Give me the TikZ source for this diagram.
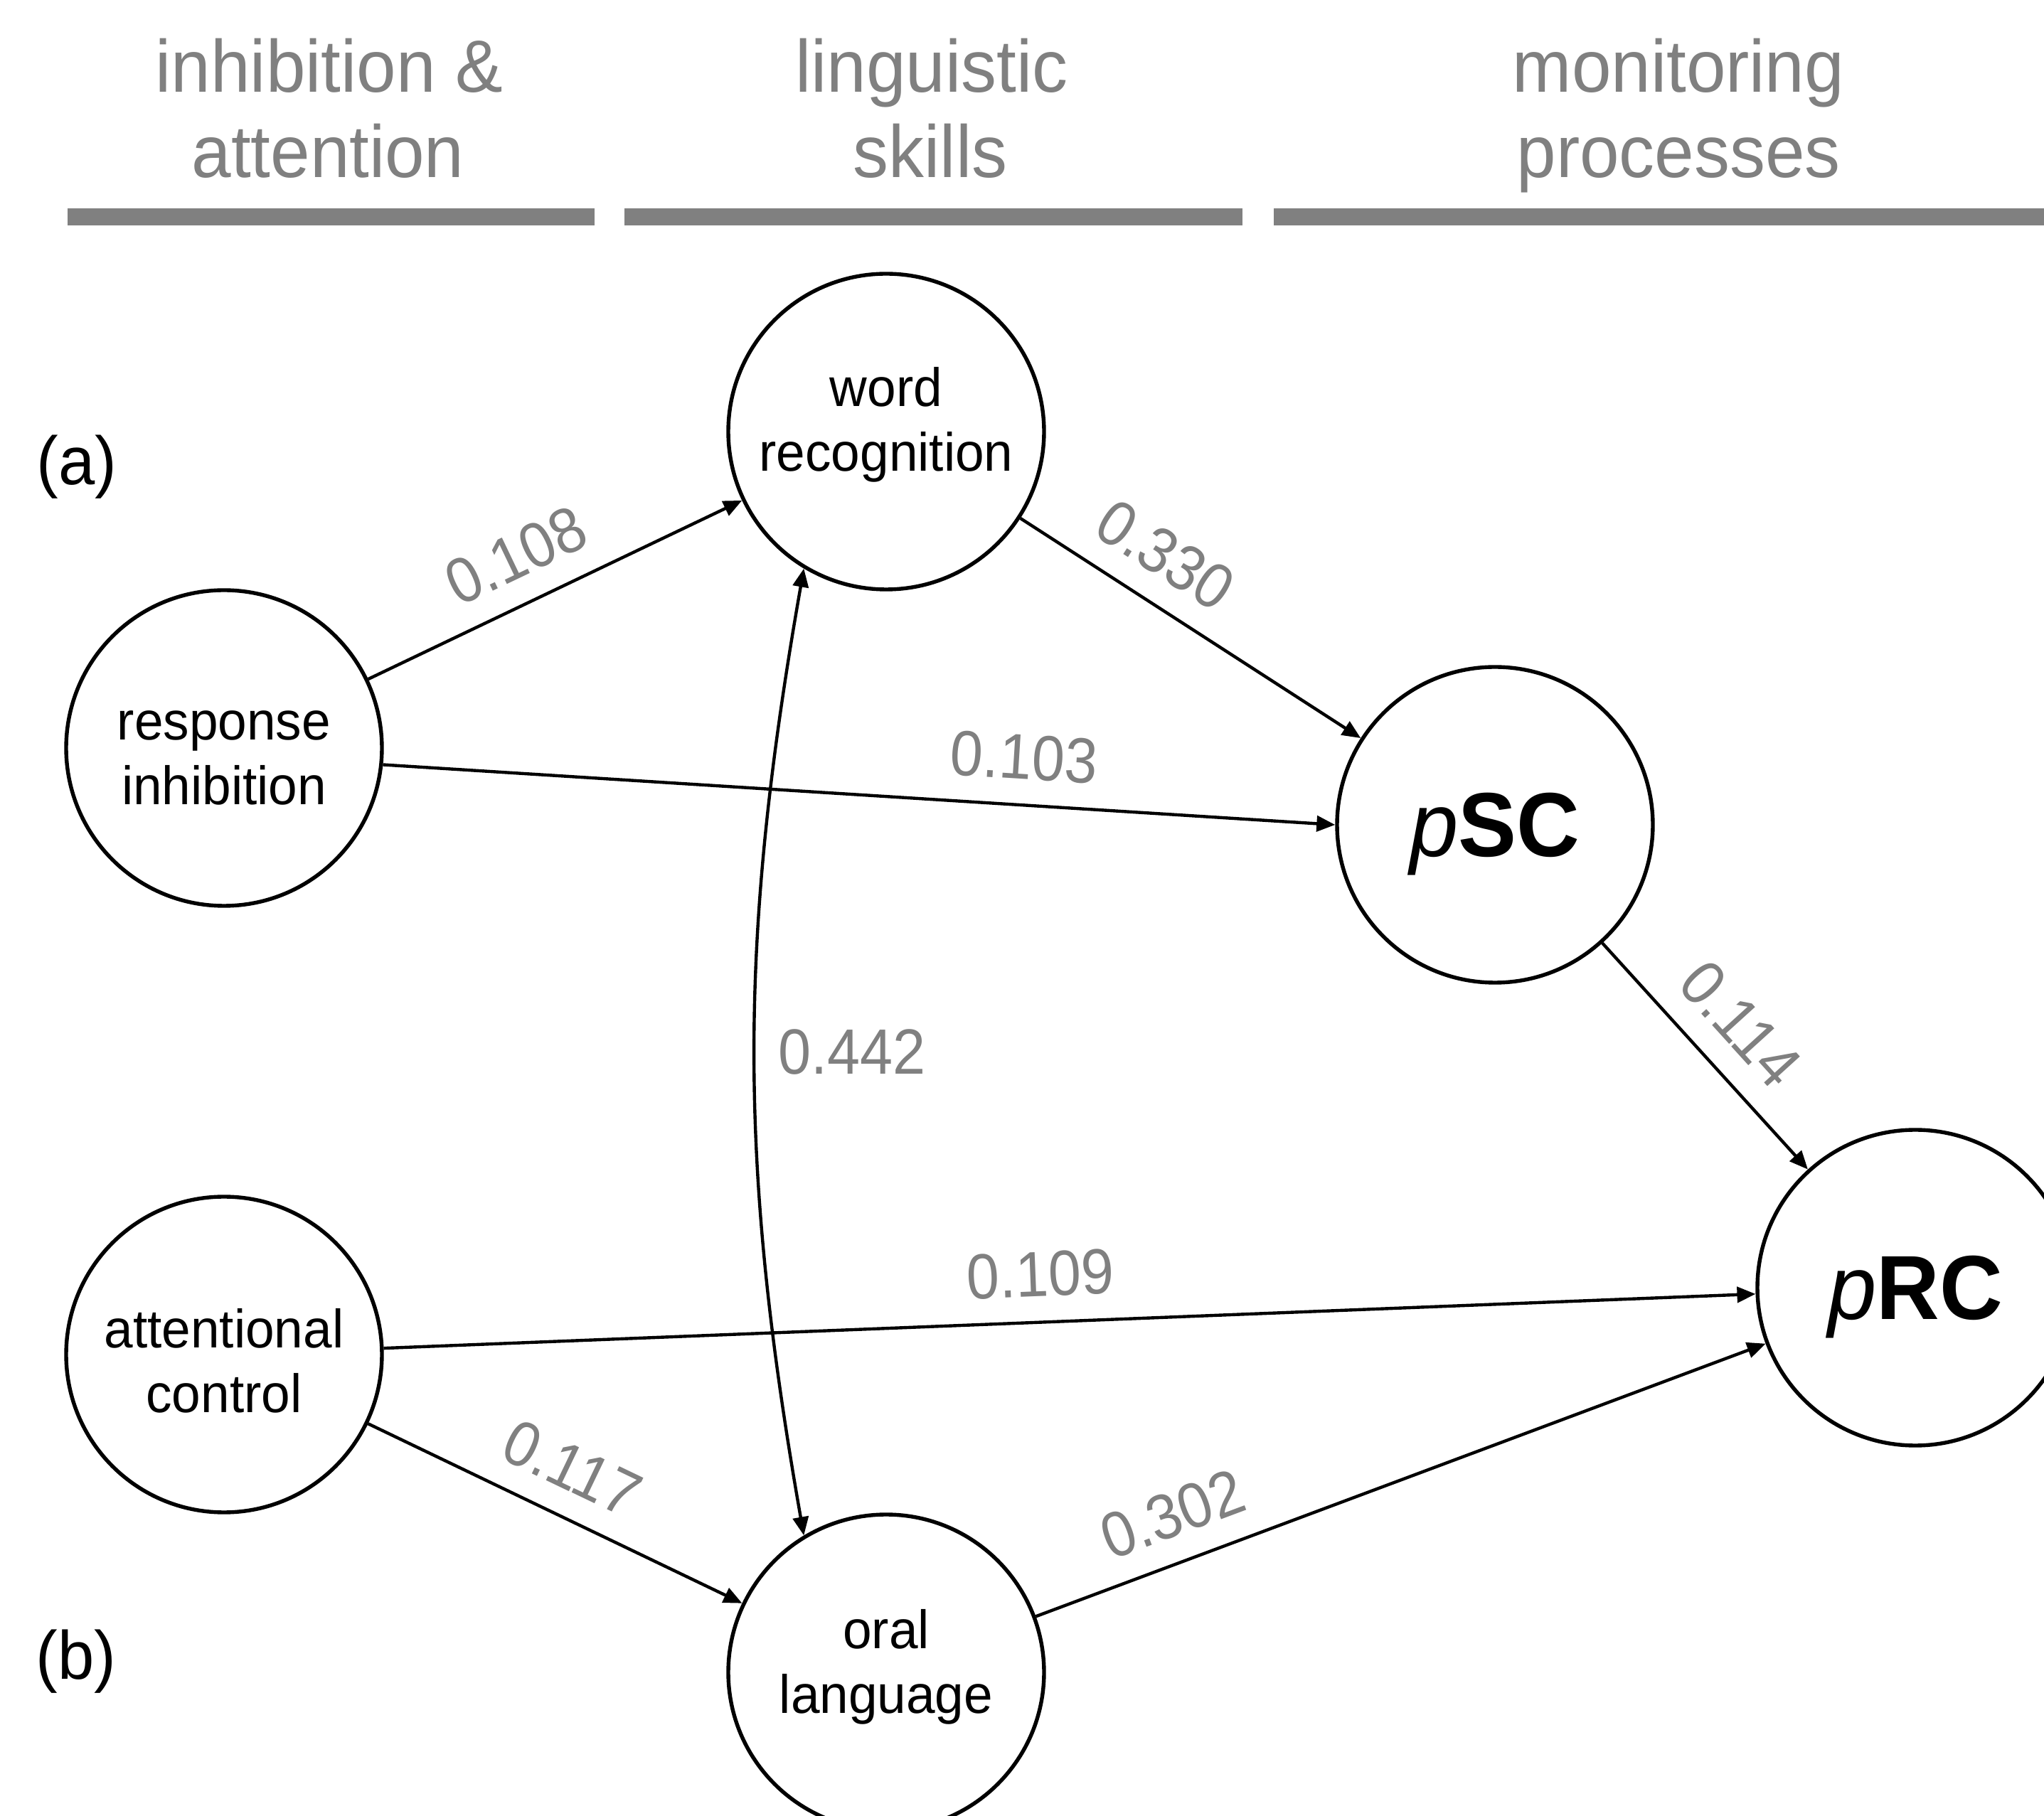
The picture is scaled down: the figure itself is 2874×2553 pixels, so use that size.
\documentclass[tikz,border=0pt]{standalone}
\usepackage{fontspec}
\setmainfont[FakeStretch=0.96]{Liberation Sans}
\newfontfamily\lblfont[FakeStretch=0.92]{Liberation Sans}
\usetikzlibrary{arrows.meta}
\definecolor{hgray}{RGB}{128,128,128}
\newcommand\twol[3]{\raisebox{-#1}[0pt][0pt]{\begin{tabular}[b]{@{}c@{}}#2\\#3\end{tabular}}}
\begin{document}
\begin{tikzpicture}[x=0.25pt,y=0.25pt,
  var/.style={circle, draw, line width=1.35pt, minimum size=111pt, inner sep=0pt, font=\fontsize{19}{22.75}\selectfont},
  big/.style={var, font=\fontsize{32}{36}\selectfont, text depth=0pt},
  edge/.style={line width=1.1pt, -{Triangle[length=6.5pt,width=5.5pt]}},
  dedge/.style={line width=1.1pt, {Triangle[length=6.5pt,width=5.5pt]}-{Triangle[length=6.5pt,width=5.5pt]}},
  lbl/.style={font=\lblfont\fontsize{22.5}{26}\selectfont, text=hgray, sloped, above=5pt},
  lblr/.style={font=\lblfont\fontsize{22.5}{26}\selectfont, text=hgray, right=4.5pt},
  hdr/.style={font=\fontsize{26}{30}\selectfont, text=hgray, anchor=base, inner sep=0pt},
  tag/.style={font=\fontsize{24}{28}\selectfont, anchor=base, inner sep=0pt}]
\useasboundingbox (0,0) rectangle (2874,2553);
\clip (0,0) rectangle (2874,2553);

% headers
\node[hdr] (h1a) at (463,2423) {inhibition \&};
\node[hdr] (h1b) at (461,2303) {attention};
\node[hdr] (h2a) at (1310,2423) {linguistic};
\node[hdr] (h2b) at (1308,2303) {skills};
\node[hdr] (h3a) at (2360,2423) {monitoring};
\node[hdr] (h3b) at (2360,2303) {processes};
\fill[hgray] (95,2236) rectangle (836,2260);
\fill[hgray] (878,2236) rectangle (1747,2260);
\fill[hgray] (1791,2236) rectangle (2874,2260);

% tags
\node[tag] (ta) at (108,1871) {(a)};
\node[tag] (tb) at (107,192) {(b)};

% variables
\node[var] (wr) at (1246,1946) {\twol{14pt}{word}{recognition}};
\node[var] (ri) at (315,1501) {\twol{20pt}{response}{inhibition}};
\node[var] (ac) at (315,648) {\twol{20.5pt}{attentional}{control}};
\node[var] (ol) at (1246,201) {\twol{14.5pt}{oral}{language}};
\node[big] (psc) at (2102,1393) {\textit{p}\textbf{SC}};
\node[big] (prc) at (2693,742) {\textit{p}\textbf{RC}};

% paths
\draw[edge] (ri) -- node[lbl,pos=.45]{0.108} (wr);
\draw[edge] (wr) -- node[lbl,pos=.35]{0.330} (psc);
\draw[edge] (ri.-6) -- node[lbl,pos=.67]{0.103} (psc.west);
\draw[edge] (psc) -- node[lbl,pos=.5]{0.114} (prc);
\draw[edge] (ac) -- node[lbl,pos=.48]{0.109} (prc);
\draw[edge] (ac) -- node[lbl,pos=.49]{0.117} (ol);
\draw[edge] (ol) -- node[lbl,pos=.21]{0.302} (prc);
\draw[dedge] (wr.239) to[out=260,in=100] node[lblr,pos=.5]{0.442} (ol.121);
\end{tikzpicture}
\end{document}
